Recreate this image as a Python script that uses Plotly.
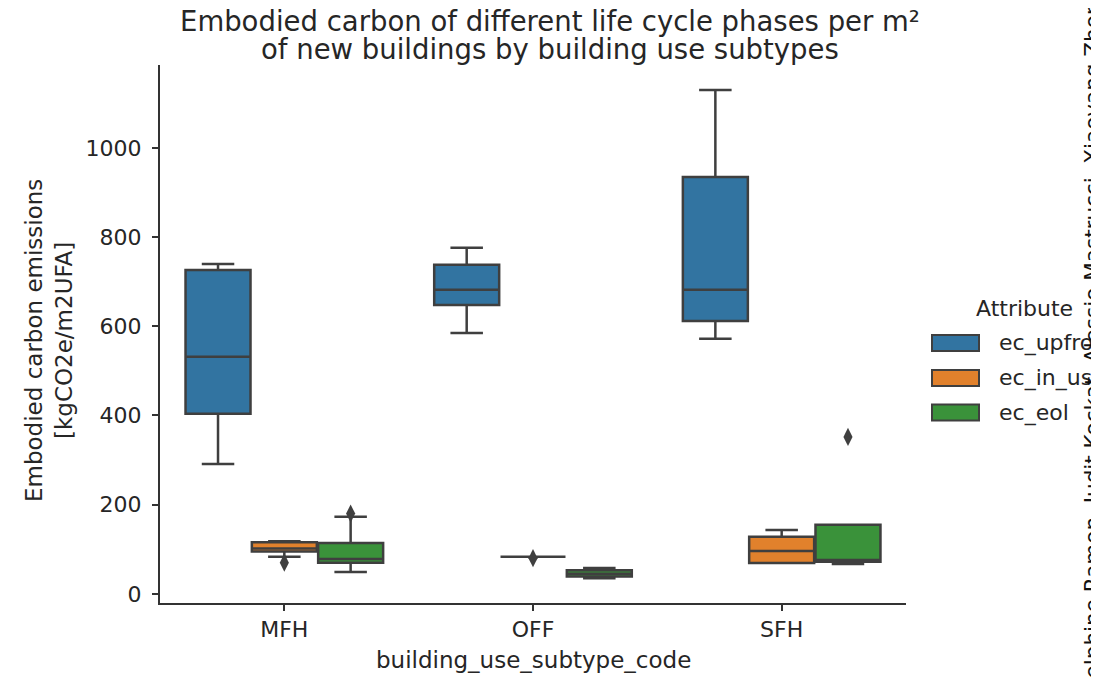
import plotly.graph_objects as go

categories = ["MFH", "OFF", "SFH"]
attributes = ["ec_upfront", "ec_in_use", "ec_eol"]
colors = ["#3274a1", "#e1812c", "#3a923a"]

# box statistics per attribute, one value per category (MFH, OFF, SFH)
upfront_q1 = [404, 648, 612]
upfront_med = [532, 682, 682]
upfront_q3 = [726, 738, 935]
upfront_lo = [291, 585, 572]
upfront_hi = [740, 776, 1130]

in_use_q1 = [95, 83, 69]
in_use_med = [102, 83, 96]
in_use_q3 = [116, 83, 128]
in_use_lo = [83, 83, 69]
in_use_hi = [118, 83, 143]

eol_q1 = [70, 39, 72]
eol_med = [78, 45, 76]
eol_q3 = [114, 53, 155]
eol_lo = [49, 35, 67]
eol_hi = [173, 58, 155]

# outliers: (category, attribute, value)
outlier_cat = ["MFH", "MFH", "OFF", "SFH"]
outlier_attr = ["ec_in_use", "ec_eol", "ec_in_use", "ec_eol"]
outlier_val = [70, 180, 80, 352]

title_lines = ["Embodied carbon of different life cycle phases per m²",
               "of new buildings by building use subtypes"]
x_title = "building_use_subtype_code"
y_title = "Embodied carbon emissions<br>[kgCO2e/m2UFA]"
legend_title = "Attribute"
credit = "Delphine Ramon, Judit Kockat, Alessio Mastrucci, Xiaoyang Zhong"

stats = {
    "ec_upfront": (upfront_q1, upfront_med, upfront_q3, upfront_lo, upfront_hi),
    "ec_in_use": (in_use_q1, in_use_med, in_use_q3, in_use_lo, in_use_hi),
    "ec_eol": (eol_q1, eol_med, eol_q3, eol_lo, eol_hi),
}

group_width = 0.8
n_hue = len(attributes)
each = group_width / n_hue
offsets = [(j - (n_hue - 1) / 2) * each for j in range(n_hue)]

EDGE = "#3f3f3f"
TXT = "#262626"
FONT = "DejaVu Sans"

# page body has an 8px margin; layout is expressed in reference pixels
SHIFT = 8
W, H = 1099 - SHIFT, 677 - SHIFT
L, R, T, B = 160 - SHIFT, 906 - SHIFT, 65 - SHIFT, 603 - SHIFT


def px_x(p):
    return (p - SHIFT - L) / (R - L)


def px_y(p):
    return (B - (p - SHIFT)) / (B - T)


fig = go.Figure()
for j, attr in enumerate(attributes):
    q1, med, q3, lo, hi = stats[attr]
    xs = [i + offsets[j] for i in range(len(categories))]
    fig.add_trace(go.Box(
        x=xs, q1=q1, median=med, q3=q3, lowerfence=lo, upperfence=hi,
        name=attr, width=each * 0.98, whiskerwidth=0.5,
        fillcolor=colors[j], line=dict(color=EDGE, width=2.5),
        boxpoints=False, showlegend=False, hoverinfo="skip",
    ))

ox = [categories.index(c) + offsets[attributes.index(a)] for c, a in zip(outlier_cat, outlier_attr)]
fig.add_trace(go.Scatter(
    x=ox, y=outlier_val, mode="markers", showlegend=False,
    marker=dict(symbol="diamond-tall", size=13, color=EDGE, line=dict(width=0)),
    hoverinfo="skip",
))

annotations = []
for k, line in enumerate(title_lines):
    annotations.append(dict(
        text=line, xref="paper", yref="paper", x=px_x(550), y=px_y(21 + 28 * k),
        xanchor="center", yanchor="middle", showarrow=False,
        font=dict(size=27.5, color=TXT)))

annotations += [
    dict(text=x_title, xref="paper", yref="paper",
         x=px_x(533), y=px_y(660), xanchor="center", yanchor="middle",
         showarrow=False, font=dict(size=23)),
    dict(text=y_title, xref="paper", yref="paper",
         x=px_x(49), y=px_y(341), xanchor="center", yanchor="middle",
         textangle=-90, showarrow=False, font=dict(size=23)),
    dict(text=legend_title, xref="paper", yref="paper",
         x=px_x(1024), y=px_y(308), xanchor="center", yanchor="middle",
         showarrow=False, font=dict(size=22)),
]

# legend (patches + labels)
shapes = []
legend_rows = [343, 378, 412.5]
for j, attr in enumerate(attributes):
    yc = legend_rows[j]
    shapes.append(dict(
        type="rect", xref="paper", yref="paper",
        x0=px_x(932), x1=px_x(979), y0=px_y(yc - 8), y1=px_y(yc + 8),
        fillcolor=colors[j], line=dict(color=EDGE, width=2)))
    annotations.append(dict(
        text=attr, xref="paper", yref="paper", x=px_x(997), y=px_y(yc),
        xanchor="left", yanchor="middle", showarrow=False, font=dict(size=22)))

annotations.append(dict(
    text=credit, xref="paper", yref="paper", x=px_x(1092), y=px_y(342),
    xanchor="center", yanchor="middle", textangle=-90, showarrow=False,
    font=dict(size=21.5, color="#111111")))

fig.update_layout(
    width=W, height=H,
    margin=dict(l=L, r=W - R, t=T, b=H - B, autoexpand=False),
    plot_bgcolor="white", paper_bgcolor="white",
    font=dict(family=FONT, size=22, color=TXT),
    boxmode="overlay",
    showlegend=False,
    xaxis=dict(
        range=[-0.5, 2.5], tickvals=list(range(len(categories))), ticktext=categories,
        showline=True, linecolor="#333333", linewidth=2,
        ticks="outside", ticklen=6, tickwidth=1.5, tickcolor="#333333",
        showgrid=False, zeroline=False, tickfont=dict(size=22),
    ),
    yaxis=dict(
        range=[-20.5, 1186], dtick=200, tick0=0,
        showline=True, linecolor="#333333", linewidth=2,
        ticks="outside", ticklen=6, tickwidth=1.5, tickcolor="#333333",
        showgrid=False, zeroline=False, tickfont=dict(size=22),
        ticklabelstandoff=6,
    ),
    annotations=annotations,
    shapes=shapes,
)

fig.write_html("out.html")
